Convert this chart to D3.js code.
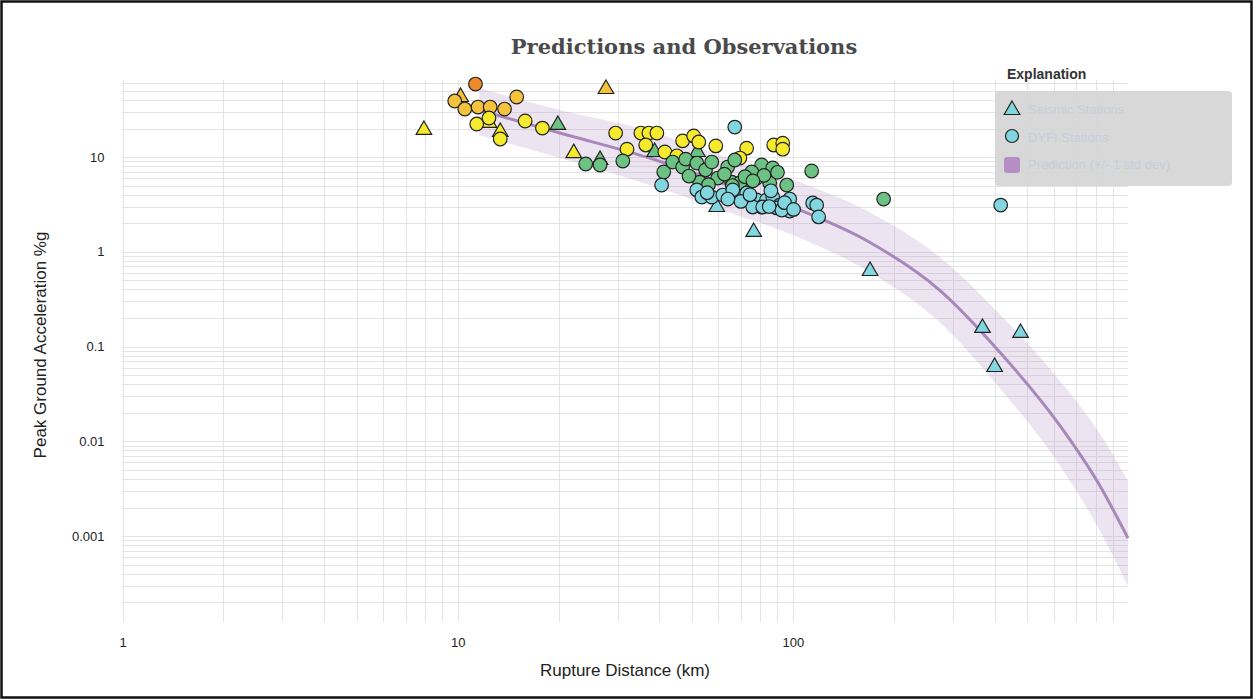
<!DOCTYPE html>
<html>
<head>
<meta charset="utf-8">
<script src="https://cdn.jsdelivr.net/npm/d3@7"></script>
<style>
  body { margin: 0; background: #fff; }
</style>
</head>
<body>
<svg id="chart" width="1253" height="699"></svg>
<script>
// prediction curve (rupture distance km, PGA %g) and +/- 1 std dev band
const predDist  = [11.6, 20.2, 37.4, 60.3, 104.9, 169, 274, 414, 625, 822, 1000];
const predMean  = [31.3, 17.9, 9.76, 5.45, 2.76, 1.27, 0.394, 0.0875, 0.0148, 0.00345, 0.00095];
const predUpper = [53.4, 31.3, 18.8, 10.5, 5.45, 2.63, 0.879, 0.220, 0.0442, 0.0122, 0.0038];
const predLower = [17.0, 9.75, 5.06, 2.83, 1.40, 0.613, 0.181, 0.0365, 0.0056, 0.00116, 0.000296];

// seismic stations (triangles)
const seisDist = [7.93, 27.7, 19.9, 22.2, 10.2, 12.4, 13.4, 26.6, 38.7, 51.9, 59.3, 76.4, 170, 368, 478, 400];
const seisPga  = [19.3, 52.2, 21.8, 11.0, 43.0, 22.9, 18.4, 9.3, 11.3, 11.3, 2.97, 1.62, 0.627, 0.157, 0.139, 0.0608];
const seisMmi  = [6, 7, 5, 6, 7, 6, 6, 5, 5, 5, 4, 4, 4, 4, 4, 4];

// DYFI stations (circles)
const dyfiDist = [
  11.3,
  9.8, 10.5, 11.5, 12.5, 13.8, 15.0,
  11.4, 12.4, 13.4, 15.9, 17.9, 29.6, 32.0, 35.2, 37.2, 39.3, 36.4, 41.5, 46.9, 50.6, 52.4, 58.9, 45.1, 72.8, 69.5, 87.7, 93.3, 93.3,
  24.1, 26.6, 31.1, 41.2, 43.8, 46.9, 47.9, 51.7, 54.9, 57.3, 52.7, 59.7, 63.9, 65.7, 69.5, 78.0, 80.7, 87.1, 85.3, 95.9, 113.8, 75.4, 67.1, 186.6,
  49.0, 62.5, 72.0, 82.0, 90.0, 56.0, 66.0, 76.0,
  67.1, 40.6, 51.7, 53.5, 57.3, 61.8, 66.2, 72.8, 78.0, 80.7, 83.5, 87.1, 91.4, 97.9, 97.9, 89.5, 114.6, 117.8, 119.4, 417, 75.9, 81.3, 92.7,
  55.5, 70.0, 74.5, 85.0, 94.5, 100.5, 64.0, 86.0
];
const dyfiPga = [
  58.9,
  39.0, 32.1, 33.7, 33.7, 32.1, 43.0,
  22.3, 25.8, 15.5, 24.0, 20.2, 17.9, 12.1, 17.9, 17.9, 17.9, 13.4, 11.3, 14.8, 16.7, 14.4, 13.1, 10.3, 12.4, 9.76, 13.4, 14.0, 12.1,
  8.44, 8.24, 9.08, 6.95, 8.85, 7.84, 9.5, 8.64, 7.30, 8.85, 5.44, 6.00, 7.84, 5.44, 5.32, 6.00, 8.24, 7.66, 5.32, 5.06, 7.12, 6.95, 9.3, 3.60,
  6.3, 6.6, 6.2, 6.4, 6.9, 5.1, 5.0, 5.6,
  20.7, 5.06, 4.49, 3.78, 3.78, 3.97, 4.49, 4.17, 3.52, 2.97, 3.52, 3.78, 3.11, 3.60, 2.69, 2.90, 3.27, 3.11, 2.33, 3.11, 2.97, 2.97, 2.76,
  4.2, 3.4, 4.0, 3.0, 3.3, 2.8, 3.6, 4.4
];
const dyfiMmi = [
  8,
  7, 7, 7, 7, 7, 7,
  6, 6, 6, 6, 6, 6, 6, 6, 6, 6, 6, 6, 6, 6, 6, 6, 6, 6, 6, 6, 6, 6,
  5, 5, 5, 5, 5, 5, 5, 5, 5, 5, 5, 5, 5, 5, 5, 5, 5, 5, 5, 5, 5, 5, 5, 5,
  5, 5, 5, 5, 5, 5, 5, 5,
  4, 4, 4, 4, 4, 4, 4, 4, 4, 4, 4, 4, 4, 4, 4, 4, 4, 4, 4, 4, 4, 4, 4,
  4, 4, 4, 4, 4, 4, 4, 4
];

const xTicks = [1, 10, 100];
const yTicks = [10, 1, 0.1, 0.01, 0.001];
const legendLabels = ["Seismic Stations", "DYFI Stations", "Prediction (+/- 1 std dev)"];

const mmiColor = {4: "#82d6df", 5: "#6cc282", 6: "#f6ea2e", 7: "#f5c23c", 8: "#ef8a2b"};
const sans = "'Liberation Sans', Arial, Helvetica, sans-serif";

const svg = d3.select("#chart");

const x = d3.scaleLog().domain([1, 1000]).range([122.5, 1128]);
const y = d3.scaleLog().domain([0.00018, 65]).range([606.6, 80]);

// grid
const xGrid = [];
for (let k = 0; k < 3; k++) for (let m = 1; m <= 9; m++) xGrid.push(m * Math.pow(10, k));
const yGrid = [];
for (let k = -4; k <= 1; k++) for (let m = 1; m <= 9; m++) {
  const v = +(m * Math.pow(10, k)).toPrecision(3);
  if (v >= 0.0002 && v <= 60) yGrid.push(v);
}

const grid = svg.append("g").attr("stroke", "#e4e4e4").attr("stroke-width", 1).attr("shape-rendering", "crispEdges");
grid.selectAll(".vg").data(xGrid).enter().append("line")
  .attr("x1", d => Math.round(x(d)) + 0.5).attr("x2", d => Math.round(x(d)) + 0.5)
  .attr("y1", 80).attr("y2", 622);
grid.selectAll(".hg").data(yGrid).enter().append("line")
  .attr("x1", 122).attr("x2", 1128)
  .attr("y1", d => Math.round(y(d)) + 0.5).attr("y2", d => Math.round(y(d)) + 0.5);

// prediction band + line
const pred = predDist.map((d, i) => ({d: d, m: predMean[i], u: predUpper[i], l: predLower[i]}));
svg.append("path").datum(pred)
  .attr("fill", "#b48ec4").attr("fill-opacity", 0.24)
  .attr("d", d3.area().curve(d3.curveMonotoneX).x(p => x(p.d)).y0(p => y(p.l)).y1(p => y(p.u)));
svg.append("path").datum(pred)
  .attr("fill", "none").attr("stroke", "#a888ba").attr("stroke-width", 3)
  .attr("d", d3.line().curve(d3.curveMonotoneX).x(p => x(p.d)).y(p => y(p.m)));

// seismic stations
const tri = d3.symbol().type(d3.symbolTriangle).size(105);
svg.append("g").selectAll("path").data(seisDist.map((d, i) => ({d: d, g: seisPga[i], c: seisMmi[i]})))
  .enter().append("path")
  .attr("d", tri)
  .attr("transform", p => "translate(" + x(p.d) + "," + y(p.g) + ")")
  .attr("fill", p => mmiColor[p.c]).attr("stroke", "#222").attr("stroke-width", 1.2);

// DYFI stations
svg.append("g").selectAll("circle").data(dyfiDist.map((d, i) => ({d: d, g: dyfiPga[i], c: dyfiMmi[i]})))
  .enter().append("circle")
  .attr("cx", p => x(p.d)).attr("cy", p => y(p.g)).attr("r", 6.8)
  .attr("fill", p => mmiColor[p.c]).attr("stroke", "#222").attr("stroke-width", 1.2);

// axes (labels only)
const xAxis = svg.append("g").attr("transform", "translate(0,638)")
  .call(d3.axisBottom(x).tickValues(xTicks).tickFormat(d3.format("~g")).tickSize(0).tickPadding(0));
const yAxis = svg.append("g").attr("transform", "translate(122.5,0)")
  .call(d3.axisLeft(y).tickValues(yTicks).tickFormat(d3.format("~g")).tickSize(0).tickPadding(18));
[xAxis, yAxis].forEach(a => {
  a.select(".domain").remove();
  a.selectAll("text").style("font-size", "13px").style("fill", "#222").style("font-family", sans);
});

svg.append("text").attr("x", 625).attr("y", 676).attr("text-anchor", "middle")
  .style("font-family", sans).style("font-size", "17px").style("fill", "#222").text("Rupture Distance (km)");
svg.append("text").attr("transform", "translate(46,345) rotate(-90)").attr("text-anchor", "middle")
  .style("font-family", sans).style("font-size", "17px").style("fill", "#222").text("Peak Ground Acceleration %g");

// title
svg.append("text").attr("x", 684).attr("y", 54).attr("text-anchor", "middle")
  .style("font-family", "'DejaVu Serif', serif").style("font-weight", "bold")
  .style("font-size", "21px").style("fill", "#4a4a4a").text("Predictions and Observations");

// legend
const lg = svg.append("g");
lg.append("text").attr("x", 1007).attr("y", 79)
  .style("font-family", sans).style("font-size", "14px").style("font-weight", "bold")
  .style("fill", "#333").text("Explanation");
lg.append("rect").attr("x", 995).attr("y", 91).attr("width", 237).attr("height", 95).attr("rx", 4)
  .attr("fill", "#d5d5d5").attr("fill-opacity", 0.92);
lg.append("path").attr("d", tri).attr("transform", "translate(1012,110)")
  .attr("fill", mmiColor[4]).attr("stroke", "#222").attr("stroke-width", 1.2);
lg.append("circle").attr("cx", 1012).attr("cy", 136).attr("r", 6.5)
  .attr("fill", mmiColor[4]).attr("stroke", "#222").attr("stroke-width", 1.2);
lg.append("rect").attr("x", 1004).attr("y", 157).attr("width", 16).attr("height", 16).attr("rx", 3)
  .attr("fill", "#b48ec4");
lg.selectAll(".lt").data(legendLabels).enter().append("text")
  .attr("x", 1028).attr("y", (d, i) => 114 + i * 27.5)
  .style("font-family", sans).style("font-size", "13px").style("fill", "#c6cedb").text(d => d);

// frame
svg.append("rect").attr("x", 1.5).attr("y", 1.5).attr("width", 1250).attr("height", 696)
  .attr("fill", "none").attr("stroke", "#111").attr("stroke-width", 2.5);
</script>
</body>
</html>
